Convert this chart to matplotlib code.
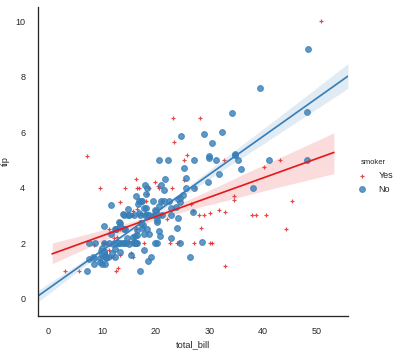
import matplotlib
matplotlib.use("Agg")
import matplotlib.pyplot as plt
from matplotlib.collections import PathCollection
import numpy as np
import pandas as pd
import seaborn as sns

total_bill = [16.99, 10.34, 21.01, 23.68, 24.59, 25.29, 8.77, 26.88, 15.04, 14.78,
              10.27, 35.26, 15.42, 18.43, 14.83, 21.58, 10.33, 16.29, 16.97, 20.65,
              17.92, 20.29, 15.77, 39.42, 19.82, 17.81, 13.37, 12.69, 21.70, 19.65,
              9.55, 18.35, 15.06, 20.69, 17.78, 24.06, 16.31, 16.93, 18.69, 31.27,
              16.04, 17.46, 13.94, 9.68, 30.40, 18.29, 22.23, 32.40, 28.55, 18.04,
              12.54, 10.29, 34.81, 9.94, 25.56, 19.49, 38.01, 26.41, 11.24, 48.27,
              20.29, 13.81, 11.02, 18.29, 17.59, 20.08, 16.45, 3.07, 20.23, 15.01,
              12.02, 17.07, 26.86, 25.28, 14.73, 10.51, 17.92, 27.20, 22.76, 17.29,
              19.44, 16.66, 10.07, 32.68, 15.98, 34.83, 13.03, 18.28, 24.71, 21.16,
              28.97, 22.49, 5.75, 16.32, 22.75, 40.17, 27.28, 12.03, 21.01, 12.46,
              11.35, 15.38, 44.30, 22.42, 20.92, 15.36, 20.49, 25.21, 18.24, 14.31,
              14.00, 7.25, 38.07, 23.95, 25.71, 17.31, 29.93, 10.65, 12.43, 24.08,
              11.69, 13.42, 14.26, 15.95, 12.48, 29.80, 8.52, 14.52, 11.38, 22.82,
              19.08, 20.27, 11.17, 12.26, 18.26, 8.51, 10.33, 14.15, 16.00, 13.16,
              17.47, 34.30, 41.19, 27.05, 16.43, 8.35, 18.64, 11.87, 9.78, 7.51,
              14.07, 13.13, 17.26, 24.55, 19.77, 29.85, 48.17, 25.00, 13.39, 16.49,
              21.50, 12.66, 16.21, 13.81, 17.51, 24.52, 20.76, 31.71, 10.59, 10.63,
              50.81, 15.81, 7.25, 31.85, 16.82, 32.90, 17.89, 14.48, 9.60, 34.63,
              34.65, 23.33, 45.35, 23.17, 40.55, 20.69, 20.90, 30.46, 18.15, 23.10,
              15.69, 19.81, 28.44, 15.48, 16.58, 7.56, 10.34, 43.11, 13.00, 13.51,
              18.71, 12.74, 13.00, 16.40, 20.53, 16.47, 26.59, 38.73, 24.27, 12.76,
              30.06, 25.89, 48.33, 13.27, 28.17, 12.90, 28.15, 11.59, 7.74, 30.14,
              12.16, 13.42, 8.58, 15.98, 13.42, 16.27, 10.09, 20.45, 13.28, 22.12,
              24.01, 15.69, 11.61, 10.77, 15.53, 10.07, 12.60, 32.83, 35.83, 29.03,
              27.18, 22.67, 17.82, 18.78]

tip = [1.01, 1.66, 3.50, 3.31, 3.61, 4.71, 2.00, 3.12, 1.96, 3.23,
       1.71, 5.00, 1.57, 3.00, 3.02, 3.92, 1.67, 3.71, 3.50, 3.35,
       4.08, 2.75, 2.23, 7.58, 3.18, 2.34, 2.00, 2.00, 4.30, 3.00,
       1.45, 2.50, 3.00, 2.45, 3.27, 3.60, 2.00, 3.07, 2.31, 5.00,
       2.24, 2.54, 3.06, 1.32, 5.60, 3.00, 5.00, 6.00, 2.05, 3.00,
       2.50, 2.60, 5.20, 1.56, 4.34, 3.51, 3.00, 1.50, 1.76, 6.73,
       3.21, 2.00, 1.98, 3.76, 2.64, 3.15, 2.47, 1.00, 2.01, 2.09,
       1.97, 3.00, 3.14, 5.00, 2.20, 1.25, 3.08, 4.00, 3.00, 2.71,
       3.00, 3.40, 1.83, 5.00, 2.03, 5.17, 2.00, 4.00, 5.85, 3.00,
       3.00, 3.50, 1.00, 4.30, 3.25, 4.73, 4.00, 1.50, 3.00, 1.50,
       2.50, 3.00, 2.50, 3.48, 4.08, 1.64, 4.06, 4.29, 3.76, 4.00,
       3.00, 1.00, 4.00, 2.55, 4.00, 3.50, 5.07, 1.50, 1.80, 2.92,
       2.31, 1.68, 2.50, 2.00, 2.52, 4.20, 1.48, 2.00, 2.00, 2.18,
       1.50, 2.83, 1.50, 2.00, 3.25, 1.25, 2.00, 2.00, 2.00, 2.75,
       3.50, 6.70, 5.00, 5.00, 2.30, 1.50, 1.36, 1.63, 1.73, 2.00,
       2.50, 2.00, 2.74, 2.00, 2.00, 5.14, 5.00, 3.75, 2.61, 2.00,
       3.50, 2.50, 2.00, 2.00, 3.00, 3.48, 2.24, 4.50, 1.61, 2.00,
       10.00, 3.16, 5.15, 3.18, 4.00, 3.11, 2.00, 2.00, 4.00, 3.55,
       3.68, 5.65, 3.50, 6.50, 3.00, 5.00, 3.50, 2.00, 3.50, 4.00,
       1.50, 4.19, 2.56, 2.02, 4.00, 1.44, 2.00, 5.00, 2.00, 2.00,
       4.00, 2.01, 2.00, 2.50, 4.00, 3.23, 3.41, 3.00, 2.03, 2.23,
       2.00, 5.16, 9.00, 2.50, 6.50, 1.10, 3.00, 1.50, 1.44, 3.09,
       2.20, 3.48, 1.92, 3.00, 1.58, 2.50, 2.00, 3.00, 2.72, 2.88,
       2.00, 3.00, 3.39, 1.47, 3.00, 1.25, 1.00, 1.17, 4.67, 5.92,
       2.00, 2.00, 1.75, 3.00]

smoker = ["No", "No", "No", "No", "No", "No", "No", "No", "No", "No",
          "No", "No", "No", "No", "No", "No", "No", "No", "No", "No",
          "No", "No", "No", "No", "No", "No", "No", "No", "No", "No",
          "No", "No", "No", "No", "No", "No", "No", "No", "No", "No",
          "No", "No", "No", "No", "No", "No", "No", "No", "No", "No",
          "No", "No", "No", "No", "No", "No", "Yes", "No", "Yes", "No",
          "Yes", "Yes", "Yes", "Yes", "No", "No", "No", "Yes", "No", "Yes",
          "No", "No", "Yes", "Yes", "No", "No", "Yes", "No", "No", "No",
          "Yes", "No", "No", "Yes", "No", "No", "No", "No", "No", "No",
          "Yes", "No", "Yes", "Yes", "No", "Yes", "Yes", "Yes", "Yes", "No",
          "Yes", "Yes", "Yes", "Yes", "No", "Yes", "Yes", "Yes", "No", "Yes",
          "No", "No", "No", "No", "No", "No", "No", "No", "No", "No",
          "No", "No", "No", "No", "No", "No", "No", "No", "No", "No",
          "No", "No", "No", "No", "No", "No", "No", "No", "Yes", "No",
          "No", "No", "No", "No", "No", "No", "No", "No", "No", "No",
          "No", "No", "No", "No", "No", "No", "No", "No", "No", "No",
          "No", "No", "No", "No", "Yes", "No", "No", "No", "Yes", "Yes",
          "Yes", "Yes", "Yes", "Yes", "Yes", "Yes", "Yes", "Yes", "Yes", "Yes",
          "Yes", "Yes", "Yes", "Yes", "Yes", "No", "Yes", "Yes", "Yes", "Yes",
          "Yes", "Yes", "Yes", "Yes", "Yes", "No", "Yes", "Yes", "Yes", "Yes",
          "Yes", "Yes", "Yes", "Yes", "Yes", "Yes", "Yes", "Yes", "Yes", "Yes",
          "Yes", "Yes", "No", "Yes", "Yes", "Yes", "Yes", "Yes", "Yes", "Yes",
          "Yes", "Yes", "Yes", "No", "Yes", "Yes", "Yes", "No", "No", "Yes",
          "Yes", "Yes", "No", "No", "Yes", "No", "Yes", "Yes", "No", "No",
          "Yes", "Yes", "No", "No"]

hue_order = ["Yes", "No"]
markers = ["+", "o"]
marker_sizes = [22, 34]

df = pd.DataFrame({"total_bill": total_bill, "tip": tip, "smoker": smoker})

sns.set_theme(style="white", context="paper")
plt.rcParams["font.family"] = ["Liberation Sans", "DejaVu Sans"]
plt.rcParams["xtick.labelsize"] = 9
plt.rcParams["ytick.labelsize"] = 9
plt.rcParams["axes.labelsize"] = 9.3
plt.rcParams["legend.fontsize"] = 9
plt.rcParams["axes.linewidth"] = 1.3
plt.rcParams["axes.edgecolor"] = "#262626"

palette = sns.color_palette("Set1", len(hue_order))

fig = plt.figure(figsize=(401 / 72, 353 / 72), dpi=72)
ax = fig.add_axes([38 / 401, 1 - 316 / 353, (348 - 38) / 401, (316 - 7) / 353])

for level, mk, ms, col in zip(hue_order, markers, marker_sizes, palette):
    sub = df[df["smoker"] == level]
    # let the previous fit lines take part in the margin computation
    for ln in ax.lines:
        ln.sticky_edges.x.clear()
    sns.regplot(data=sub, x="total_bill", y="tip", ax=ax, color=col, marker=mk,
                truncate=False, ci=68, seed=0, label=level,
                scatter_kws={"s": ms}, line_kws={"lw": 1.7})

handles = [c for c in ax.collections if isinstance(c, PathCollection)]

sns.despine(ax=ax)
ax.set_xlabel("total_bill")
ax.set_ylabel("tip")
ax.tick_params(axis="x", pad=6)
ax.tick_params(axis="y", pad=8)
ax.xaxis.labelpad = 4
ax.yaxis.labelpad = 5

leg = fig.legend(handles, hue_order, title="smoker", loc="center right",
                 bbox_to_anchor=(1.0, 0.5), frameon=False)
leg.get_title().set_fontsize(7.6)

fig.savefig("out.png", dpi=72)
